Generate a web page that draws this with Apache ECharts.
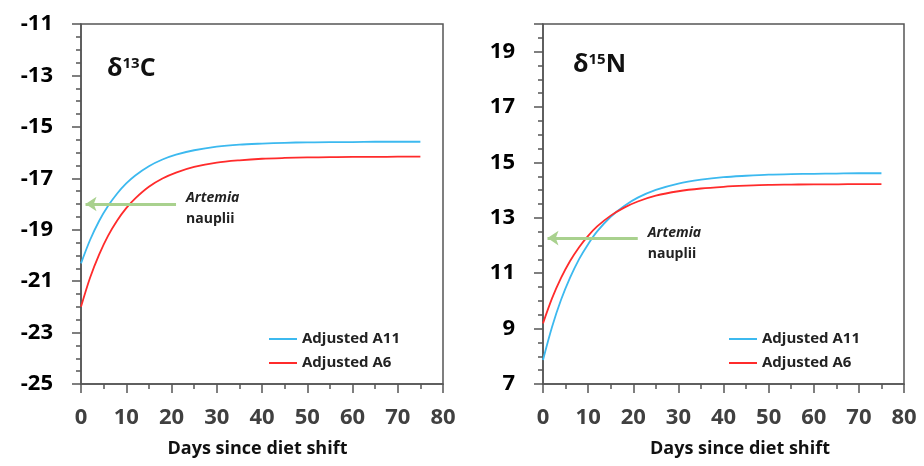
<!DOCTYPE html>
<html>
<head>
<meta charset="utf-8">
<script src="https://cdn.jsdelivr.net/npm/echarts@6/dist/echarts.min.js"></script>
<style>
  html, body { margin: 0; padding: 0; background: #fff; }
  #chart { width: 924px; height: 466px; }
</style>
</head>
<body>
<div id="chart"></div>
<script>
// Days since the diet shift at which each curve is sampled
const days = [0, 2, 4, 6, 8, 10, 12, 15, 18, 21, 25, 30, 35, 40, 45, 50, 55, 60, 65, 70, 75];

// δ13C (‰)
const carbonA11 = [-20.31, -19.40, -18.66, -18.07, -17.59, -17.20, -16.89, -16.53, -16.27, -16.08, -15.91, -15.77, -15.69, -15.65, -15.62, -15.60, -15.59, -15.59, -15.58, -15.58, -15.58];
const carbonA6  = [-22.00, -20.87, -19.97, -19.23, -18.64, -18.16, -17.78, -17.33, -17.01, -16.78, -16.56, -16.39, -16.30, -16.24, -16.21, -16.19, -16.18, -16.17, -16.17, -16.16, -16.16];

// δ15N (‰)
const nitrogenA11 = [7.87, 9.06, 10.04, 10.84, 11.51, 12.05, 12.51, 13.04, 13.43, 13.73, 14.01, 14.24, 14.38, 14.47, 14.52, 14.56, 14.58, 14.59, 14.60, 14.61, 14.61];
const nitrogenA6  = [9.19, 10.09, 10.83, 11.44, 11.94, 12.35, 12.69, 13.08, 13.37, 13.59, 13.80, 13.96, 14.06, 14.12, 14.16, 14.19, 14.20, 14.21, 14.21, 14.22, 14.22];

// Artemia nauplii reference value and arrow span (days)
const artemiaCarbon = -18.0;
const artemiaNitrogen = 12.27;
const arrowSpan = [21, 1];

const seriesNames = ['Adjusted A11', 'Adjusted A6'];
const xTicks = { min: 0, max: 80, interval: 10 };
const carbonTicks = { min: -25, max: -11, interval: 2 };
const nitrogenTicks = { min: 7, max: 20, interval: 2 };

const BLUE = '#3cb9ef';
const RED = '#ff2b2b';
const GREEN = '#a9d18e';
const AXIS = '#555555';
const FONT = '"Open Sans", "Noto Sans", sans-serif';

function pairs(xs, ys) { return xs.map((x, i) => [x, ys[i]]); }

function xAxisFor(grid, shift) {
  return {
    type: 'value', gridIndex: grid,
    min: xTicks.min, max: xTicks.max, interval: xTicks.interval,
    name: 'Days since diet shift', nameLocation: 'middle', nameGap: 56,
    nameTextStyle: { fontFamily: FONT, fontWeight: 'bold', fontSize: 18, color: '#111', padding: shift },
    axisLine: { lineStyle: { color: AXIS, width: 1.5 } },
    axisTick: { length: 9, lineStyle: { color: AXIS, width: 1.5 } },
    minorTick: { show: true, splitNumber: 2, length: 5, lineStyle: { color: AXIS, width: 1.5 } },
    axisLabel: { fontFamily: FONT, fontWeight: 'bold', fontSize: 22, color: '#404040', margin: 23 },
    splitLine: { show: false }
  };
}

function yAxisFor(grid, t) {
  return {
    type: 'value', gridIndex: grid,
    min: t.min, max: t.max, interval: t.interval,
    axisLine: { show: true, lineStyle: { color: AXIS, width: 1.5 } },
    axisTick: { show: true, length: 9, lineStyle: { color: AXIS, width: 1.5 } },
    minorTick: { show: true, splitNumber: 4, length: 5, lineStyle: { color: AXIS, width: 1.5 } },
    axisLabel: { fontFamily: FONT, fontWeight: 'bold', fontSize: 22, color: '#000', margin: 28, showMaxLabel: t.max % t.interval === t.min % t.interval },
    splitLine: { show: false }
  };
}

function arrow(y) {
  return {
    silent: true, animation: false,
    symbol: ['none', 'arrow'], symbolSize: [11, 11],
    lineStyle: { color: GREEN, width: 3, type: 'solid' },
    label: {
      show: true, position: 'start', distance: 10,
      formatter: '{i|Artemia}\n{n|nauplii}',
      rich: {
        i: { fontFamily: FONT, fontStyle: 'italic', fontWeight: 'bold', fontSize: 14, color: '#222', lineHeight: 21 },
        n: { fontFamily: FONT, fontWeight: 'bold', fontSize: 14, color: '#222', lineHeight: 21 }
      },
      padding: [10, 0, 0, 0]
    },
    data: [[{ coord: [arrowSpan[0], y] }, { coord: [arrowSpan[1], y] }]]
  };
}

function line(name, grid, ys, color, withArrow) {
  const s = {
    name, type: 'line', xAxisIndex: grid, yAxisIndex: grid,
    data: pairs(days, ys), smooth: 0.3, showSymbol: false,
    lineStyle: { color, width: 1.8 }, itemStyle: { color },
    animation: false
  };
  if (withArrow !== undefined) s.markLine = arrow(withArrow);
  return s;
}

function legendAt(left) {
  return {
    data: seriesNames, left, top: 325, orient: 'vertical',
    icon: 'rect', itemWidth: 28, itemHeight: 2, itemGap: 6,
    textStyle: { fontFamily: FONT, fontWeight: 'bold', fontSize: 15, color: '#222', lineHeight: 18 },
    selectedMode: false
  };
}

const richTitle = {
  fontFamily: FONT, fontWeight: 'bold', fontSize: 25, color: '#111',
  rich: { s: { fontFamily: FONT, fontWeight: 'bold', fontSize: 15, color: '#111', verticalAlign: 'top', lineHeight: 26 } }
};

const chart = echarts.init(document.getElementById('chart'), null, { renderer: 'canvas' });
chart.setOption({
  backgroundColor: '#fff',
  animation: false,
  title: [
    { text: 'δ{s|13}C', left: 102, top: 51, textStyle: richTitle },
    { text: 'δ{s|15}N', left: 568, top: 47, textStyle: richTitle }
  ],
  legend: [legendAt(264), legendAt(724)],
  grid: [
    { left: 81, top: 24, width: 362, height: 360, show: true, borderColor: AXIS, borderWidth: 1.5, backgroundColor: 'transparent' },
    { left: 543, top: 24, width: 361, height: 360, show: true, borderColor: AXIS, borderWidth: 1.5, backgroundColor: 'transparent' }
  ],
  xAxis: [xAxisFor(0, [0, 9, 0, 0]), xAxisFor(1, [0, 0, 0, 33])],
  yAxis: [yAxisFor(0, carbonTicks), yAxisFor(1, nitrogenTicks)],
  series: [
    line(seriesNames[0], 0, carbonA11, BLUE, artemiaCarbon),
    line(seriesNames[1], 0, carbonA6, RED),
    line(seriesNames[0], 1, nitrogenA11, BLUE, artemiaNitrogen),
    line(seriesNames[1], 1, nitrogenA6, RED)
  ]
});
</script>
</body>
</html>
